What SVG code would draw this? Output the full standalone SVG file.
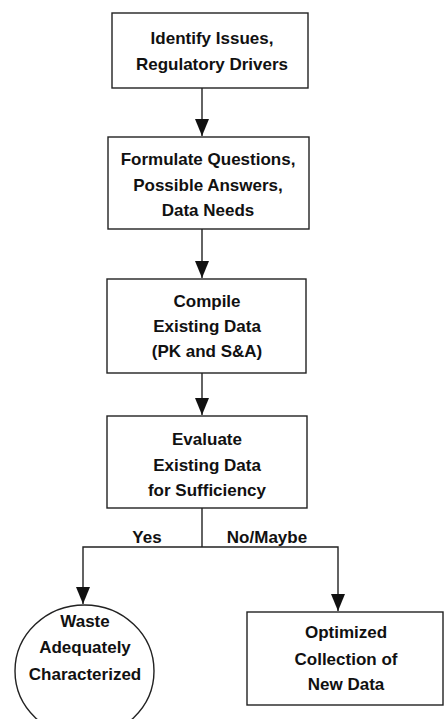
<svg xmlns="http://www.w3.org/2000/svg" width="444" height="719" viewBox="0 0 444 719">
<style>
.n{fill:#fff;stroke:#222;stroke-width:1.4}
.t{font-family:"Liberation Sans",Arial,sans-serif;font-weight:bold;font-size:17px;fill:#111;text-anchor:middle}
.c{fill:none;stroke:#222;stroke-width:1.4}
</style>
<defs>
<marker id="ah" markerUnits="userSpaceOnUse" markerWidth="18" markerHeight="14" refX="17" refY="7" orient="auto" viewBox="0 0 18 14">
<path d="M0,0 L17,7 L0,14 Z" fill="#111"/>
</marker>
</defs>
<rect width="444" height="719" fill="#fff"/>
<g id="connectors">
<line class="c" x1="202" y1="88" x2="202" y2="136" marker-end="url(#ah)"/>
<line class="c" x1="202" y1="229" x2="202" y2="278" marker-end="url(#ah)"/>
<line class="c" x1="202" y1="373" x2="202" y2="415" marker-end="url(#ah)"/>
<polyline class="c" points="202,508 202,547"/>
<polyline class="c" points="202,547 83,547 83,604" marker-end="url(#ah)"/>
<polyline class="c" points="202,547 338,547 338,611" marker-end="url(#ah)"/>
<text class="t" x="147" y="543">Yes</text>
<text class="t" x="267" y="543">No/Maybe</text>
</g>
<g id="n1">
<rect class="n" x="112" y="13" width="196" height="75"/>
<text class="t" x="212" y="44">Identify Issues,</text>
<text class="t" x="212" y="70">Regulatory Drivers</text>
</g>
<g id="n2">
<rect class="n" x="108" y="137" width="201" height="92"/>
<text class="t" x="208" y="165">Formulate Questions,</text>
<text class="t" x="208" y="191">Possible Answers,</text>
<text class="t" x="208" y="216">Data Needs</text>
</g>
<g id="n3">
<rect class="n" x="107" y="279" width="199" height="94"/>
<text class="t" x="207" y="307">Compile</text>
<text class="t" x="207" y="332">Existing Data</text>
<text class="t" x="207" y="357">(PK and S&amp;A)</text>
</g>
<g id="n4">
<rect class="n" x="107" y="416" width="200" height="92"/>
<text class="t" x="207" y="445">Evaluate</text>
<text class="t" x="207" y="471">Existing Data</text>
<text class="t" x="207" y="496">for Sufficiency</text>
</g>
<g id="n5">
<ellipse class="n" cx="84.5" cy="671" rx="69.5" ry="66"/>
<text class="t" x="85" y="627">Waste</text>
<text class="t" x="85" y="653">Adequately</text>
<text class="t" x="85" y="680">Characterized</text>
</g>
<g id="n6">
<rect class="n" x="247" y="612" width="196" height="93"/>
<text class="t" x="346" y="638">Optimized</text>
<text class="t" x="346" y="665">Collection of</text>
<text class="t" x="346" y="690">New Data</text>
</g>
</svg>
